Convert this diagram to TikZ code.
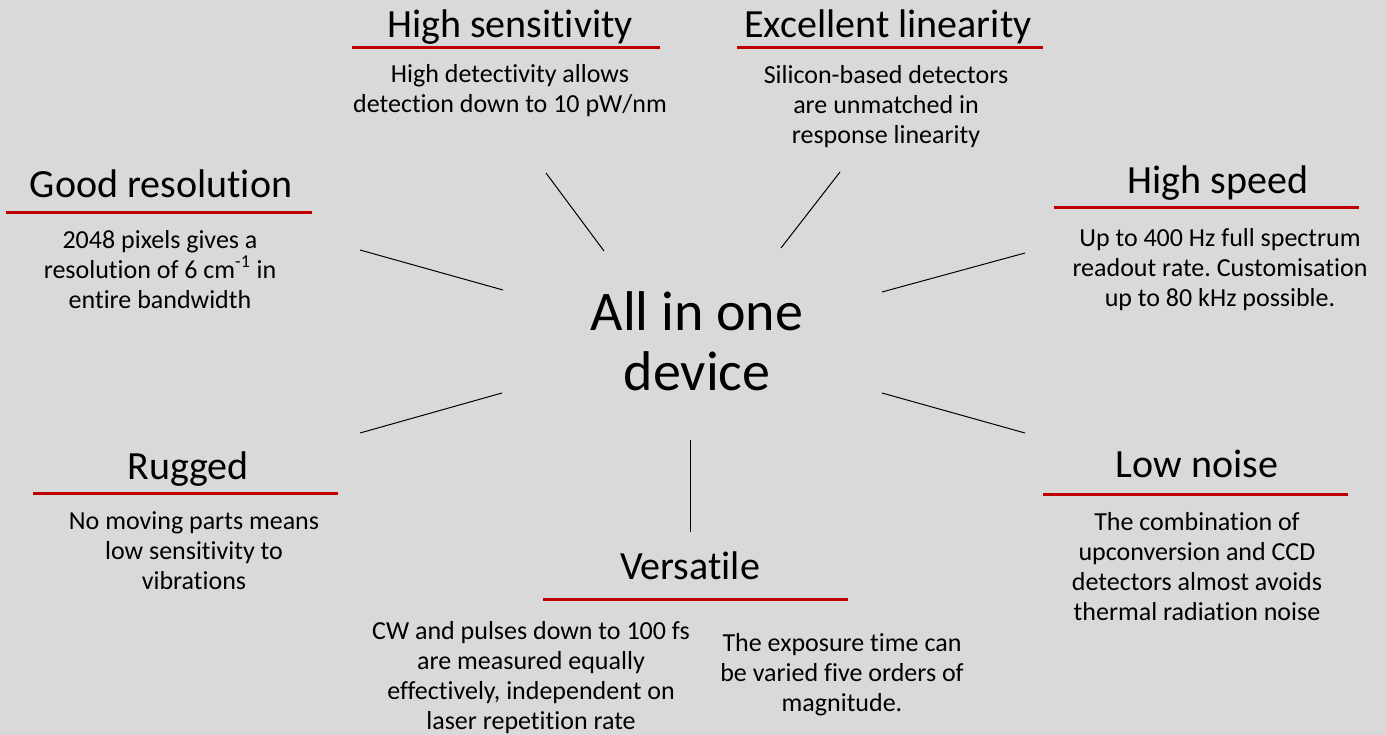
\documentclass[tikz,border=0pt]{standalone}
\usepackage{fontspec}
\setmainfont{Carlito}[Ligatures=NoCommon]
\frenchspacing
\definecolor{bgray}{RGB}{217,217,217}
\definecolor{barred}{RGB}{192,0,0}
\tikzset{
  title/.style={anchor=base, inner sep=0pt, font=\fontsize{30}{34}\selectfont},
  body/.style={anchor=base, inner sep=0pt, align=center, font=\fontsize{19.5}{22.5}\selectfont},
  redbar/.style={barred, line width=2.25pt},
  spoke/.style={black, line width=0.75pt}
}

\begin{document}
\begin{tikzpicture}[x=0.75pt, y=-0.75pt]
%background
\fill[bgray] (0,0) rectangle (1386,735);
\useasboundingbox (0,0) rectangle (1386,735);

%centre (base = last line)
\node[anchor=base, inner sep=0pt, align=center, font=\fontsize{42}{45}\selectfont] (centre) at (697,390) {All in one\\device};

%titles
\node[title] (sens) at (510,38) {High sensitivity};
\node[title] (lin) at (888,38) {Excellent linearity};
\node[title] (res) at (161,197) {Good resolution};
\node[title] (speed) at (1218,193) {High speed};
\node[title] (rug) at (188,479) {Rugged};
\node[title] (noise) at (1197,477) {Low noise};
\node[title] (vers) at (690,579) {Versatile};

%red bars
\draw[redbar] (352,48) -- (660,48);
\draw[redbar] (737,48) -- (1043,48);
\draw[redbar] (6,212) -- (312,212);
\draw[redbar] (1054,207) -- (1359,207);
\draw[redbar] (33,493) -- (338,493);
\draw[redbar] (1043,494) -- (1348,494);
\draw[redbar] (543,599) -- (848,599);

%texts
\node[body] (sens-t) at (510,113) {High detectivity allows\\detection down to 10 pW/nm};
\node[body] (lin-t) at (886,143) {Silicon-based detectors\\are unmatched in\\response linearity};
\node[body] (res-t) at (160,308) {2048 pixels gives a\\resolution of 6 cm\textsuperscript{-1} in\\entire bandwidth};
\node[body] (speed-t) at (1220,306) {Up to 400 Hz full spectrum\\readout rate. Customisation\\up to 80 kHz possible.};
\node[body] (rug-t) at (194,589) {No moving parts means\\low sensitivity to\\vibrations};
\node[body] (noise-t) at (1197,620) {The combination of\\upconversion and CCD\\detectors almost avoids\\thermal radiation noise};
\node[body] (vers-a) at (531,729) {CW and pulses down to 100 fs\\are measured equally\\effectively, independent on\\laser repetition rate};
\node[body] (vers-b) at (842,711) {The exposure time can\\be varied five orders of\\magnitude.};

%spokes
\coordinate (res-o) at (360,250);   \coordinate (res-i) at (503,290);
\coordinate (sens-o) at (546,173);  \coordinate (sens-i) at (604,251);
\coordinate (lin-o) at (840,172);   \coordinate (lin-i) at (781,248);
\coordinate (speed-o) at (1025,253);\coordinate (speed-i) at (882,292);
\coordinate (noise-o) at (1025,433);\coordinate (noise-i) at (882,393);
\coordinate (rug-o) at (360,433);   \coordinate (rug-i) at (502,393);
\coordinate (vers-o) at (690,532);  \coordinate (vers-i) at (690,440);
\foreach \s in {res,sens,lin,speed,noise,rug,vers}
  \draw[spoke] (\s-o) -- (\s-i);

\end{tikzpicture}
\end{document}
